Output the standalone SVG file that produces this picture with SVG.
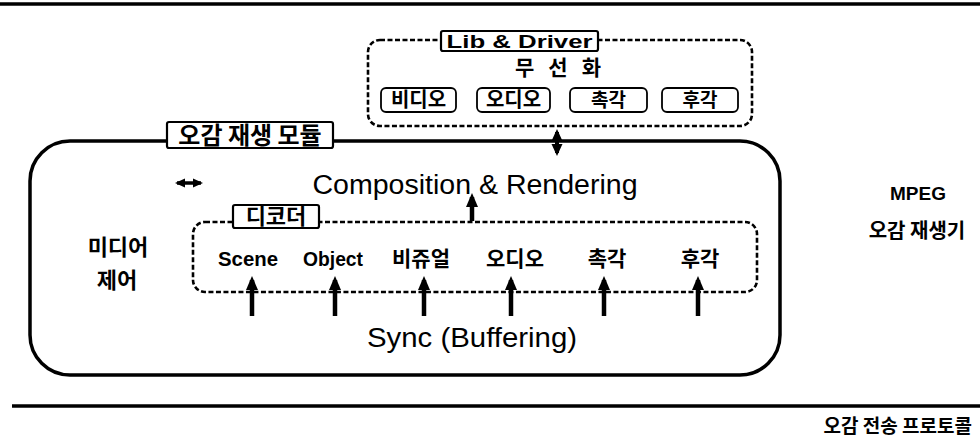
<svg xmlns="http://www.w3.org/2000/svg" width="980" height="440" viewBox="0 0 980 440">
<style>
.solid{fill:none;stroke:#000;stroke-width:3.5}
.rule{stroke:#000;stroke-width:3.5}
.dash{fill:none;stroke:#000;stroke-width:2.6;stroke-dasharray:5 2.5}
.lbl{fill:#fff;stroke:#000;stroke-width:2.2}
.sm{fill:#fff;stroke:#000;stroke-width:1.8}
.kr{font-family:"Noto Sans CJK KR","Liberation Sans",sans-serif;font-weight:700;fill:#000}
.en{font-family:"Liberation Sans","Noto Sans CJK KR",sans-serif;fill:#000}
.b{font-weight:700}
.arr{stroke:#000;stroke-width:4.5;fill:none}
.arr2{stroke:#000;stroke-width:4;fill:none}
.arr3{stroke:#000;stroke-width:3.5;fill:none}
</style>
<defs>
<marker id="ah" markerUnits="userSpaceOnUse" markerWidth="14" markerHeight="14" viewBox="0 0 14 14" refX="10" refY="7" orient="auto-start-reverse"><path d="M0,1 L14,7 L0,13 Z" fill="#000"/></marker>
<marker id="ahs" markerUnits="userSpaceOnUse" markerWidth="12" markerHeight="12" viewBox="0 0 12 12" refX="9" refY="6" orient="auto-start-reverse"><path d="M0,0.5 L12,6 L0,11.5 Z" fill="#000"/></marker>
<marker id="aht" markerUnits="userSpaceOnUse" markerWidth="10" markerHeight="10" viewBox="0 0 10 10" refX="8" refY="5" orient="auto-start-reverse"><path d="M0,0.5 L10,5 L0,9.5 Z" fill="#000"/></marker>
</defs>

<g id="rules">
<line class="rule" x1="0" y1="4" x2="980" y2="4"/>
<line class="rule" x1="12" y1="406" x2="980" y2="406"/>
</g>

<g id="lib-driver">
<rect class="dash" x="368" y="40" width="384" height="86" rx="12"/>
<rect class="lbl" x="441" y="31" width="157" height="20" rx="2"/>
<text class="en b" x="519.5" y="48" font-size="19" text-anchor="middle" textLength="146" lengthAdjust="spacingAndGlyphs">Lib &amp; Driver</text>
<text class="kr" x="558" y="75" font-size="21" text-anchor="middle" textLength="86" lengthAdjust="spacing">무 선 화</text>
<rect class="sm" x="381" y="88" width="75" height="24" rx="5"/>
<text class="kr" x="418.5" y="107" font-size="20" text-anchor="middle">비디오</text>
<rect class="sm" x="477" y="88" width="73" height="24" rx="5"/>
<text class="kr" x="513.5" y="107" font-size="20" text-anchor="middle">오디오</text>
<rect class="sm" x="570" y="88" width="77" height="24" rx="5"/>
<text class="kr" x="608.5" y="107" font-size="19" text-anchor="middle">촉각</text>
<rect class="sm" x="662" y="88" width="76" height="24" rx="5"/>
<text class="kr" x="700" y="107" font-size="19" text-anchor="middle">후각</text>
</g>

<g id="player-module">
<rect class="solid" x="30" y="141" width="750" height="234" rx="40"/>
<rect class="lbl" x="167" y="122" width="166" height="26" rx="2"/>
<text class="kr" x="250" y="144" font-size="24" text-anchor="middle">오감 재생 모듈</text>
</g>

<g id="composition">
<text class="en" x="475" y="194" font-size="27" text-anchor="middle" textLength="325" lengthAdjust="spacingAndGlyphs">Composition &amp; Rendering</text>
</g>

<g id="media-control">
<text class="kr" x="118" y="255" font-size="22" text-anchor="middle">미디어</text>
<text class="kr" x="117" y="288" font-size="22" text-anchor="middle">제어</text>
</g>

<g id="decoder">
<rect class="dash" x="193" y="222" width="564" height="70" rx="12"/>
<rect class="lbl" x="233" y="205" width="86" height="23" rx="2"/>
<text class="kr" x="276" y="224" font-size="22" text-anchor="middle">디코더</text>
<text class="en b" x="248" y="266" font-size="20" text-anchor="middle" textLength="60" lengthAdjust="spacingAndGlyphs">Scene</text>
<text class="en b" x="333" y="266" font-size="20" text-anchor="middle" textLength="60" lengthAdjust="spacingAndGlyphs">Object</text>
<text class="kr" x="421" y="266" font-size="21" text-anchor="middle">비쥬얼</text>
<text class="kr" x="515" y="266" font-size="21" text-anchor="middle">오디오</text>
<text class="kr" x="607" y="266" font-size="21" text-anchor="middle">촉각</text>
<text class="kr" x="700" y="266" font-size="21" text-anchor="middle">후각</text>
</g>

<g id="sync">
<text class="en" x="472" y="347" font-size="27" text-anchor="middle" textLength="210" lengthAdjust="spacingAndGlyphs">Sync (Buffering)</text>
</g>

<g id="mpeg-player">
<text class="en b" x="918" y="200" font-size="19" text-anchor="middle">MPEG</text>
<text class="kr" x="917" y="238" font-size="20" text-anchor="middle">오감 재생기</text>
</g>

<g id="transport">
<text class="kr" x="972" y="433" font-size="19" text-anchor="end">오감 전송 프로토콜</text>
</g>

<g id="connectors">
<line class="arr2" x1="557" y1="132" x2="557" y2="153" marker-start="url(#ahs)" marker-end="url(#ahs)"/>
<line class="arr3" x1="177" y1="183" x2="201" y2="183" marker-start="url(#aht)" marker-end="url(#aht)"/>
<line class="arr" x1="472" y1="221" x2="472" y2="197" marker-end="url(#ah)"/>
<line class="arr" x1="252" y1="316" x2="252" y2="280" marker-end="url(#ah)"/>
<line class="arr" x1="335" y1="316" x2="335" y2="280" marker-end="url(#ah)"/>
<line class="arr" x1="424" y1="316" x2="424" y2="280" marker-end="url(#ah)"/>
<line class="arr" x1="511" y1="316" x2="511" y2="280" marker-end="url(#ah)"/>
<line class="arr" x1="604" y1="316" x2="604" y2="280" marker-end="url(#ah)"/>
<line class="arr" x1="698" y1="316" x2="698" y2="280" marker-end="url(#ah)"/>
</g>
</svg>
